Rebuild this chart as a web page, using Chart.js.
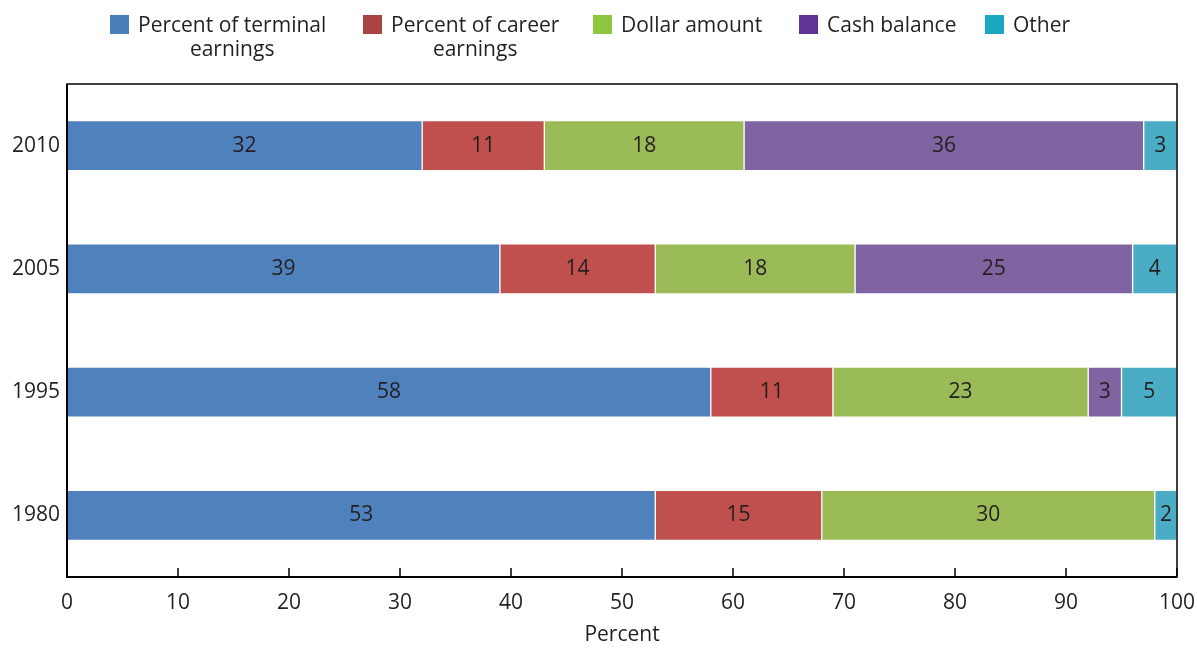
<!DOCTYPE html>
<html>
<head>
<meta charset="utf-8">
<script src="https://cdn.jsdelivr.net/npm/chart.js@4/dist/chart.umd.min.js"></script>
<style>
    html, body { margin: 0; padding: 0; background: #fff; }
    #wrap { position: relative; width: 1197px; height: 648px; }
    #legend { position: absolute; left: 0; top: 0; width: 1197px; height: 70px; font-family: "Open Sans", "Noto Sans", sans-serif; font-size: 21px; color: #231f20; }
    .item { position: absolute; top: 12px; display: flex; align-items: flex-start; }
    .box { width: 19px; height: 19px; margin-top: 3px; margin-right: 9px; }
    .txt { text-align: center; line-height: 24px; }
</style>
</head>
<body>
<div id="wrap">
    <canvas id="chart" width="1197" height="648"></canvas>
    <div id="legend"></div>
</div>
<script>
// Data
const years = ['2010', '2005', '1995', '1980'];
const terminal = [32, 39, 58, 53];
const career = [11, 14, 11, 15];
const dollar = [18, 18, 23, 30];
const cashBalance = [36, 25, 3, 0];
const other = [3, 4, 5, 2];
const xTicks = [0, 10, 20, 30, 40, 50, 60, 70, 80, 90, 100];

const seriesNames = [['Percent of terminal', 'earnings'], ['Percent of career', 'earnings'], ['Dollar amount'], ['Cash balance'], ['Other']];
const barColors = ['#4f81bd', '#c0504d', '#9bbb59', '#8064a2', '#4bacc6'];
const legendColors = ['#4a7ebb', '#a94442', '#8dc63f', '#5e3594', '#1ca9c0'];
const legendLeft = [110, 363, 593, 799, 985];

// HTML legend (two-line labels centred under the first line)
const legendEl = document.getElementById('legend');
seriesNames.forEach(function(name, i) {
    const item = document.createElement('div');
    item.className = 'item';
    item.style.left = legendLeft[i] + 'px';
    item.innerHTML = '<div class="box" style="background:' + legendColors[i] + '"></div>' +
        '<div class="txt">' + name.join('<br>') + '</div>';
    legendEl.appendChild(item);
});

const font = '"Open Sans", "Noto Sans", sans-serif';
const textColor = '#231f20';

// numbers in the middle of each segment
const valueLabels = {
    id: 'valueLabels',
    afterDatasetsDraw(chart) {
        const ctx = chart.ctx;
        ctx.save();
        ctx.font = '21px ' + font;
        ctx.fillStyle = textColor;
        ctx.textAlign = 'center';
        ctx.textBaseline = 'middle';
        chart.data.datasets.forEach(function(ds, di) {
            chart.getDatasetMeta(di).data.forEach(function(bar, i) {
                const v = ds.data[i];
                if (!v) return;
                const cx = (bar.x + bar.base) / 2;
                ctx.fillText(String(v), cx, bar.y);
            });
        });
        ctx.restore();
    }
};

// frame and inward x ticks
const frame = {
    id: 'frame',
    afterDraw(chart) {
        const ctx = chart.ctx;
        const a = chart.chartArea;
        const xs = chart.scales.x;
        ctx.save();
        ctx.strokeStyle = '#000';
        ctx.lineWidth = 1.5;
        ctx.strokeRect(a.left, a.top, a.right - a.left, a.bottom - a.top);
        ctx.lineWidth = 2;
        ctx.beginPath();
        ctx.moveTo(a.left, a.top);
        ctx.lineTo(a.left, a.bottom);
        ctx.lineTo(a.right, a.bottom);
        ctx.stroke();
        ctx.lineWidth = 1.5;
        xTicks.forEach(function(t) {
            const px = xs.getPixelForValue(t);
            ctx.beginPath();
            ctx.moveTo(px, a.bottom);
            ctx.lineTo(px, a.bottom - 9);
            ctx.stroke();
        });
        ctx.restore();
    }
};

const values = [terminal, career, dollar, cashBalance, other];

new Chart(document.getElementById('chart'), {
    type: 'bar',
    data: {
        labels: years,
        datasets: values.map(function(arr, i) {
            return {
                label: seriesNames[i].join(' '),
                data: arr,
                backgroundColor: barColors[i],
                borderColor: 'rgba(255,255,255,0.6)',
                borderWidth: 1,
                borderSkipped: false,
                barThickness: 50
            };
        })
    },
    options: {
        responsive: false,
        animation: false,
        indexAxis: 'y',
        layout: { padding: { top: 84, right: 20, left: 0, bottom: 0 } },
        plugins: {
            legend: { display: false },
            tooltip: { enabled: false }
        },
        scales: {
            x: {
                stacked: true,
                min: 0,
                max: 100,
                afterBuildTicks: function(scale) {
                    scale.ticks = xTicks.map(function(v) { return { value: v }; });
                },
                afterFit: function(scale) {
                    scale.height = 71;
                    scale.paddingLeft = 0;
                    scale.paddingRight = 0;
                },
                grid: { display: false, drawTicks: false },
                border: { display: false },
                ticks: { font: { family: font, size: 21 }, color: textColor, padding: 13 },
                title: {
                    display: true,
                    text: 'Percent',
                    font: { family: font, size: 21 },
                    color: textColor,
                    padding: { top: 3, bottom: 0 }
                }
            },
            y: {
                stacked: true,
                afterFit: function(scale) { scale.width = 67; },
                grid: { display: false, drawTicks: false },
                border: { display: false },
                ticks: { font: { family: font, size: 21 }, color: textColor, padding: 7 }
            }
        }
    },
    plugins: [valueLabels, frame]
});
</script>
</body>
</html>
